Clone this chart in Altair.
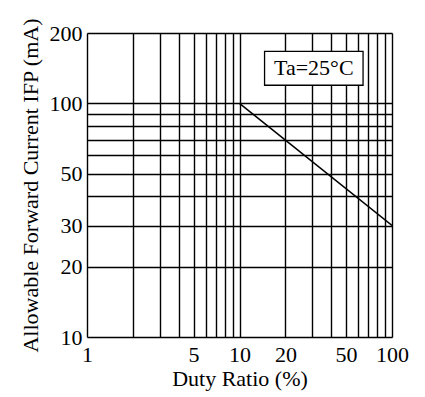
import altair as alt
import pandas as pd

# Data
duty = [10, 100]
current = [100, 30]

x_grid = [1, 2, 3, 4, 5, 6, 7, 8, 9, 10, 20, 30, 40, 50, 60, 70, 80, 90, 100]
x_labels = [1, 5, 10, 20, 50, 100]
y_grid = [10, 20, 30, 40, 50, 60, 70, 80, 90, 100, 200]
y_labels = [10, 20, 30, 50, 100, 200]

note_text = ["Ta=25°C"]
note_x = [14.6]
note_x2 = [64.6]
note_y = [119.5]
note_y2 = [167]
note_tx = [30.7]
note_ty = [141]

FONT = "Liberation Serif"
FS = 22

line_df = pd.DataFrame({"duty": duty, "current": current})
note_df = pd.DataFrame({"x": note_x, "x2": note_x2, "y": note_y, "y2": note_y2,
                        "tx": note_tx, "ty": note_ty, "t": note_text})

xscale = alt.Scale(type="log", domain=[1, 100], nice=False)
yscale = alt.Scale(type="log", domain=[10, 200], nice=False)

def lab_expr(vals):
    arr = ",".join(str(v) for v in vals)
    return f"indexof([{arr}], datum.value) >= 0 ? datum.value : ''"

xaxis = alt.Axis(values=x_grid, labelExpr=lab_expr(x_labels), title="Duty Ratio (%)",
                 grid=True, gridColor="black", gridWidth=1.4, gridOpacity=1,
                 domain=False, ticks=False, labelPadding=7, labelFont=FONT,
                 labelFontSize=FS, labelColor="black", titleFont=FONT, titleFontSize=FS,
                 titleFontWeight="normal", titleColor="black", titlePadding=3,
                 labelFlush=False, labelOverlap=False)
yaxis = alt.Axis(values=y_grid, labelExpr=lab_expr(y_labels),
                 title="Allowable Forward Current IFP (mA)",
                 grid=True, gridColor="black", gridWidth=1.4, gridOpacity=1,
                 domain=False, ticks=False, labelPadding=5, labelFont=FONT,
                 labelFontSize=FS, labelColor="black", titleFont=FONT, titleFontSize=FS,
                 titleFontWeight="normal", titleColor="black", titlePadding=7,
                 labelFlush=False, labelOverlap=False)

line = alt.Chart(line_df).mark_line(color="black", strokeWidth=1.5, clip=True).encode(
    x=alt.X("duty:Q", scale=xscale, axis=xaxis),
    y=alt.Y("current:Q", scale=yscale, axis=yaxis),
)

box = alt.Chart(note_df).mark_rect(fill="white", stroke="black", strokeWidth=1.3).encode(
    x=alt.X("x:Q", scale=xscale), x2="x2:Q",
    y=alt.Y("y:Q", scale=yscale), y2="y2:Q",
)
txt = alt.Chart(note_df).mark_text(font=FONT, fontSize=FS, color="black").encode(
    x=alt.X("tx:Q", scale=xscale), y=alt.Y("ty:Q", scale=yscale), text="t:N"
)

chart = alt.layer(line, box, txt).properties(
    width=305, height=304,
    autosize=alt.AutoSizeParams(type="none"),
    padding={"left": 79, "top": 25, "right": 25, "bottom": 58},
).configure_view(stroke="black", strokeWidth=1.5).configure(background="white")

chart.save("out.html", embed_options={"renderer": "svg", "actions": False})
